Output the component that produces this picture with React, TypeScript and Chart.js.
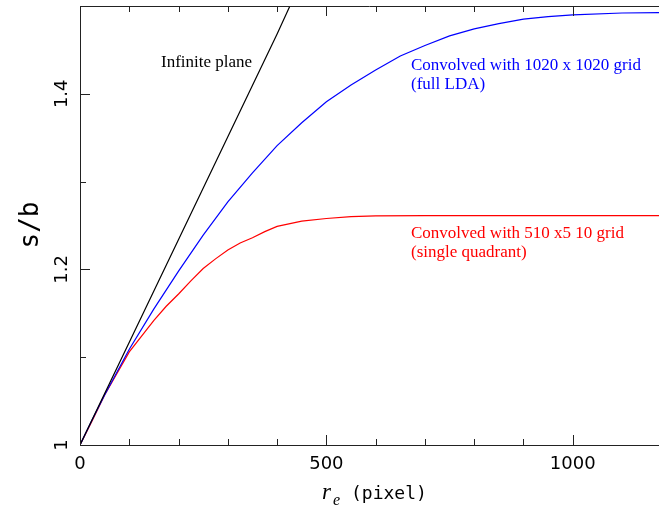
import { useEffect, useRef } from "react";
import { Chart, registerables } from "chart.js";

Chart.register(...registerables);

// Infinite-plane reference line
const planeR = [0, 100, 200, 300, 400, 426];
const planeS = [1.0, 1.117, 1.234, 1.351, 1.468, 1.5];

// Convolved with the 1020 x 1020 grid (full LDA)
const fullR = [0, 25, 50, 100, 150, 200, 250, 300, 350, 400, 450, 500, 550, 600, 650, 700, 750, 800, 850, 900, 950, 1000, 1100, 1175];
const fullS = [1.0, 1.029, 1.057, 1.109, 1.155, 1.198, 1.239, 1.277, 1.31, 1.341, 1.367, 1.391, 1.41, 1.427, 1.443, 1.455, 1.466, 1.474, 1.48, 1.485, 1.488, 1.49, 1.492, 1.4925];

// Convolved with the 510 x 510 grid (single quadrant)
const quadR = [0, 25, 50, 100, 150, 175, 200, 225, 250, 275, 300, 325, 350, 375, 400, 450, 500, 550, 600, 700, 1175];
const quadS = [1.0, 1.028, 1.057, 1.106, 1.142, 1.158, 1.172, 1.187, 1.201, 1.212, 1.222, 1.23, 1.236, 1.243, 1.249, 1.255, 1.258, 1.26, 1.261, 1.2613, 1.2613];

// Labelled tick values
const xTickLabels = [0, 500, 1000];
const yTickLabels = [1, 1.2, 1.4];

const AXIS_COLOR = "#222";
const BLUE = "#0000ff";
const RED = "#ff0000";

const toPoints = (xs: number[], ys: number[]) => xs.map((x, i) => ({ x, y: ys[i] }));
const isLabelled = (list: number[], v: number) => list.some((l) => Math.abs(l - v) < 1e-6);

// Scales keep exactly the box size given, with no extra label padding
const fixBox = (size: { width?: number; height?: number }) => (s: any) => {
  if (size.width !== undefined) s.width = size.width;
  if (size.height !== undefined) s.height = size.height;
  s.paddingTop = 0;
  s.paddingBottom = 0;
  s.paddingLeft = 0;
  s.paddingRight = 0;
};

// Inward tick marks on left, bottom and top edges, plus the top frame line
const frameTicks = {
  id: "frameTicks",
  afterDraw(chart: any) {
    const { ctx, chartArea } = chart;
    const xs = chart.scales.x;
    const ys = chart.scales.y;
    ctx.save();
    ctx.strokeStyle = AXIS_COLOR;
    ctx.lineWidth = 1;
    ctx.beginPath();
    ctx.moveTo(chartArea.left, chartArea.top + 0.5);
    ctx.lineTo(chartArea.right, chartArea.top + 0.5);
    for (const t of xs.ticks) {
      const v = t.value;
      if (Math.abs(v / 100 - Math.round(v / 100)) > 1e-6) continue;
      const px = Math.round(xs.getPixelForValue(v)) + 0.5;
      const len = Math.abs(v % 500) < 1e-6 ? 10 : 6;
      ctx.moveTo(px, chartArea.bottom);
      ctx.lineTo(px, chartArea.bottom - len);
      ctx.moveTo(px, chartArea.top);
      ctx.lineTo(px, chartArea.top + len);
    }
    for (const t of ys.ticks) {
      const v = t.value;
      const py = Math.round(ys.getPixelForValue(v)) + 0.5;
      const len = isLabelled(yTickLabels, v) ? 10 : 6;
      ctx.moveTo(chartArea.left, py);
      ctx.lineTo(chartArea.left + len, py);
    }
    ctx.stroke();
    ctx.restore();
  },
};

// Curve captions and axis titles
const captions = {
  id: "captions",
  afterDraw(chart: any) {
    const { ctx } = chart;
    ctx.save();
    ctx.textBaseline = "alphabetic";
    ctx.textAlign = "left";
    ctx.font = '17px "Liberation Serif"';
    ctx.fillStyle = "#000";
    ctx.fillText("Infinite plane", 161, 67);
    ctx.fillStyle = BLUE;
    ctx.fillText("Convolved with 1020 x 1020 grid", 411, 70);
    ctx.fillText("(full LDA)", 411, 88.5);
    ctx.fillStyle = RED;
    ctx.fillText("Convolved with 510 x5 10 grid", 411, 238);
    ctx.fillText("(single quadrant)", 411, 257);

    // x axis title: r_e (pixel)
    ctx.fillStyle = "#000";
    ctx.font = 'italic 23px "Liberation Serif"';
    ctx.fillText("r", 322, 499);
    ctx.font = 'italic 16px "Liberation Serif"';
    ctx.fillText("e", 333, 505);
    ctx.font = '18px "DejaVu Sans Mono"';
    ctx.fillText("(pixel)", 351, 499);

    // y axis title: s/b
    ctx.translate(38, 225);
    ctx.rotate(-Math.PI / 2);
    ctx.textAlign = "center";
    ctx.font = '26px "DejaVu Sans Mono"';
    ctx.fillText("s/b", 0, 0);
    ctx.restore();
  },
};

export default function App() {
  const canvasRef = useRef<HTMLCanvasElement | null>(null);

  useEffect(() => {
    const canvas = canvasRef.current;
    if (!canvas) return;
    const lineDs = (data: { x: number; y: number }[], color: string) => ({
      data,
      borderColor: color,
      backgroundColor: color,
      borderWidth: 1.2,
      pointRadius: 0,
      tension: 0,
      fill: false,
    });
    const chart = new Chart(canvas, {
      type: "line",
      data: {
        datasets: [
          lineDs(toPoints(planeR, planeS), "#000"),
          lineDs(toPoints(fullR, fullS), BLUE),
          lineDs(toPoints(quadR, quadS), RED),
        ],
      },
      options: {
        animation: false,
        responsive: false,
        devicePixelRatio: 1,
        events: [],
        layout: { padding: { top: 6, right: 0, bottom: 0, left: 0 } },
        plugins: { legend: { display: false }, tooltip: { enabled: false } },
        scales: {
          x: {
            type: "linear",
            min: 0,
            max: 1175,
            afterFit: fixBox({ height: 65 }),
            grid: { display: false, drawTicks: false },
            border: { display: true, color: AXIS_COLOR, width: 1 },
            ticks: {
              stepSize: 100,
              autoSkip: false,
              maxRotation: 0,
              padding: 9,
              color: "#000",
              font: { family: "DejaVu Sans", size: 18 },
              callback: (v: any) => (isLabelled(xTickLabels, Number(v)) ? String(v) : ""),
            },
          },
          y: {
            type: "linear",
            min: 1,
            max: 1.5,
            afterFit: fixBox({ width: 80 }),
            grid: { display: false, drawTicks: false },
            border: { display: true, color: AXIS_COLOR, width: 1 },
            ticks: {
              stepSize: 0.1,
              autoSkip: false,
              minRotation: 90,
              maxRotation: 90,
              crossAlign: "center",
              padding: 3,
              color: "#000",
              font: { family: "DejaVu Sans", size: 18 },
              callback: (v: any) => {
                const n = Number(v);
                const hit = yTickLabels.find((l) => Math.abs(l - n) < 1e-6);
                return hit === undefined ? "" : String(hit);
              },
            },
          },
        },
      },
      plugins: [frameTicks, captions],
    } as any);
    return () => chart.destroy();
  }, []);

  return (
    <div style={{ position: "fixed", left: 0, top: 0, width: 659, height: 510, background: "#fff" }}>
      <canvas ref={canvasRef} width={659} height={510} style={{ display: "block" }} />
    </div>
  );
}
